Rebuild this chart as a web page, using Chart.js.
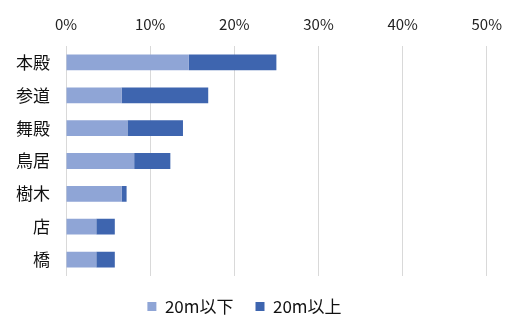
<!DOCTYPE html>
<html>
<head>
<meta charset="utf-8">
<script src="https://cdn.jsdelivr.net/npm/chart.js@4/dist/chart.umd.min.js"></script>
<style>
  html, body { margin: 0; padding: 0; background: #ffffff; }
  #wrap { width: 515px; height: 320px; }
</style>
</head>
<body>
<div id="wrap"><canvas id="c" width="515" height="320"></canvas></div>
<script>
// Categories (top to bottom) and the share of each, in percent
const categories = ['本殿', '参道', '舞殿', '鳥居', '樹木', '店', '橋'];
const below20m = [14.6, 6.6, 7.3, 8.1, 6.6, 3.6, 3.6];
const above20m = [10.4, 10.3, 6.6, 4.3, 0.6, 2.2, 2.2];
const seriesNames = ['20m以下', '20m以上'];
const axisMax = 50;
const axisStep = 10;

const cjk = '"Noto Sans CJK JP", "Noto Sans", sans-serif';

new Chart(document.getElementById('c'), {
  type: 'bar',
  data: {
    labels: categories,
    datasets: [
      { label: seriesNames[0], data: below20m, backgroundColor: '#8FA5D6' },
      { label: seriesNames[1], data: above20m, backgroundColor: '#3E65AF' }
    ]
  },
  options: {
    indexAxis: 'y',
    responsive: false,
    animation: false,
    datasets: { bar: { barPercentage: 0.48, categoryPercentage: 1.0 } },
    layout: { padding: { left: 0, right: 26, top: 0, bottom: -5 } },
    scales: {
      x: {
        position: 'top',
        stacked: true,
        min: 0,
        max: axisMax,
        ticks: {
          stepSize: axisStep,
          padding: 13,
          color: '#222222',
          font: { family: cjk, size: 15 },
          callback: v => v + '%'
        },
        grid: { color: '#D9D9D9', lineWidth: 1, drawTicks: false },
        border: { display: false },
        afterFit: s => { s.height = 46; }
      },
      y: {
        stacked: true,
        ticks: {
          padding: 16,
          color: '#111111',
          font: { family: cjk, size: 17 }
        },
        grid: { display: false, drawTicks: false },
        border: { display: false },
        afterFit: s => { s.width = 66; }
      }
    },
    plugins: {
      legend: {
        position: 'bottom',
        labels: {
          boxWidth: 9,
          boxHeight: 9,
          padding: 22,
          color: '#111111',
          font: { family: cjk, size: 17 }
        }
      },
      tooltip: { enabled: false }
    }
  }
});
</script>
</body>
</html>
